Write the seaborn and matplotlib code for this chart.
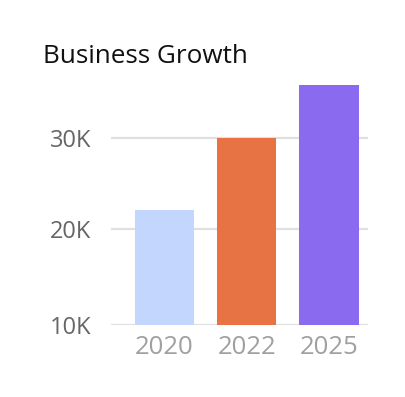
import matplotlib
matplotlib.use("Agg")
import matplotlib.pyplot as plt
import seaborn as sns
import pandas as pd

years = ["2020", "2022", "2025"]
values = [22100, 30000, 35900]
colors = ["#c3d6fd", "#e77244", "#8a6bf0"]
ytick_values = [9450, 20000, 30000]
ytick_labels = ["10K", "20K", "30K"]
title = "Business Growth"

sns.set_theme(style="white")
plt.rcParams["font.family"] = ["Open Sans", "DejaVu Sans"]

df = pd.DataFrame({"year": years, "value": values})

fig = plt.figure(figsize=(4.06, 3.97), dpi=100)
ax = fig.add_axes([111 / 406, 1 - 325.3 / 397, (368 - 111) / 406, (325.3 - 83.7) / 397])

for y in ytick_values:
    ax.axhline(y, color="#e0e0e0", linewidth=1.6, zorder=0)

sns.barplot(data=df, x="year", y="value", hue="year", palette=colors,
            legend=False, width=0.72, linewidth=0, saturation=1, ax=ax, zorder=2)

ax.set_ylim(ytick_values[0], 36000)
ax.set_xlim(-0.648, 2.474)
ax.set_yticks(ytick_values)
ax.set_yticklabels(ytick_labels)
ax.tick_params(axis="y", length=0, pad=14, labelsize=17, labelcolor="#666666")
ax.tick_params(axis="x", length=0, pad=7, labelsize=18.5, labelcolor="#a0a0a0")
ax.set_xlabel("")
ax.set_ylabel("")
for s in ax.spines.values():
    s.set_visible(False)

fig.text(43 / 406, 1 - 63 / 397, title, fontsize=18.8, color="#111111", ha="left", va="baseline")

fig.savefig("out.png", dpi=100, facecolor="white")
